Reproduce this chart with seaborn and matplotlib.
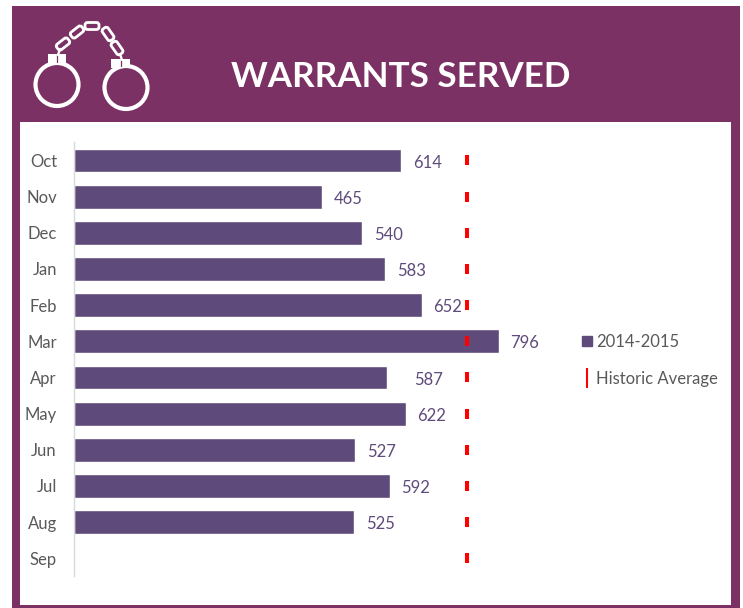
import pandas as pd
import seaborn as sns
import matplotlib.pyplot as plt
from matplotlib.patches import Rectangle, Circle, FancyBboxPatch, Patch
from matplotlib.lines import Line2D
from matplotlib.transforms import Affine2D

months = ["Oct", "Nov", "Dec", "Jan", "Feb", "Mar", "Apr", "May", "Jun", "Jul", "Aug", "Sep"]
served = [614, 465, 540, 583, 652, 796, 587, 622, 527, 592, 525, None]
historic = [736, 736, 736, 736, 736, 736, 736, 736, 736, 736, 736, 736]

W, H = 743, 608
PURPLE = "#7B3163"
BAR = "#5F4B7B"
GREY = "#595959"

sns.set_theme(style="white")
plt.rcParams["font.family"] = ["Lato", "DejaVu Sans"]

fig = plt.figure(figsize=(W / 100, H / 100), dpi=100)
fig.patch.set_facecolor("white")

# background frame, in pixels from top left
bg = fig.add_axes([0, 0, 1, 1])
bg.set_xlim(0, W)
bg.set_ylim(H, 0)
bg.axis("off")
bg.add_patch(Rectangle((11.5, 6), 728, 116, color=PURPLE, lw=0))
bg.add_patch(Rectangle((11.5, 122), 8, 486, color=PURPLE, lw=0))
bg.add_patch(Rectangle((731, 122), 8.5, 486, color=PURPLE, lw=0))
bg.add_patch(Rectangle((11.5, 605), 728, 3, color=PURPLE, lw=0))
bg.text(401, 87, "WARRANTS SERVED", color="white", fontsize=25.2, fontweight="bold",
        ha="center", va="baseline")

# handcuffs
for cx, cy in [(57, 84.5), (126, 87.5)]:
    bg.add_patch(Circle((cx, cy), 21.5, fill=False, ec="white", lw=3))
bg.add_patch(Rectangle((47.5, 54), 18, 9, color="white", lw=0))
bg.add_patch(Rectangle((111, 59), 19, 9, color="white", lw=0))
bg.plot([56.5, 56.5], [54, 62], color=PURPLE, lw=0.9)
bg.plot([120.5, 120.5], [59, 66], color=PURPLE, lw=0.9)
links = [(63, 44, -38), (77, 32, -38), (92, 26, 0), (108, 34, 55), (117, 48, 55)]
for lx, ly, ang in links:
    rot = Affine2D().rotate_deg_around(lx, ly, ang) + bg.transData
    bg.add_patch(FancyBboxPatch((lx - 7, ly - 3.5), 14, 7, boxstyle="round,pad=0,rounding_size=2.5",
                                fill=False, ec="white", lw=2, transform=rot))
bg.plot([58, 60], [55, 49], color="white", lw=1.7)
bg.plot([120, 122], [54, 60], color="white", lw=1.7)

# chart
ax = fig.add_axes([73.6 / W, 1 - 576.4 / H, (725 - 73.6) / W, 434 / H])
ax.patch.set_alpha(0)
data = pd.DataFrame({"month": months, "served": served, "historic": historic})
sns.barplot(data=data, x="served", y="month", color=BAR, saturation=1, width=0.66, ax=ax)
sns.scatterplot(data=data, x="historic", y="month", marker="|", color="#FF0000", s=52,
                linewidth=2.9, zorder=5, ax=ax, legend=False)

for i, v in enumerate(served):
    if v is not None:
        # the Apr label sits further out in the original
        pad = 19.5 if months[i] == "Apr" else 8.5
        ax.annotate(str(v), (v, i), xytext=(pad, -1.5), textcoords="offset points", va="center",
                    color=BAR, fontsize=12)
ax.set_xlim(0, (725 - 73.6) / (425 / 796))
ax.set_ylim(11.5, -0.5)
ax.set_xlabel("")
ax.set_ylabel("")
ax.set_xticks([])
ax.tick_params(axis="y", length=0, pad=12, labelsize=12, labelcolor=GREY)
sns.despine(ax=ax, bottom=True, right=True, top=True)
ax.spines["left"].set_color("#D9D9D9")
ax.spines["left"].set_linewidth(1)

handles = [Patch(color=BAR, label="2014-2015"),
           Line2D([], [], color="#FF0000", marker="|", ls="", ms=14.4, mew=1.5, label="Historic Average")]
fig.legend(handles=handles, loc="upper left", bbox_to_anchor=(582 / W, 1 - 334 / H), frameon=False,
           fontsize=12, labelcolor=GREY, labelspacing=1.25, handlelength=0.6, handleheight=0.6,
           handletextpad=0.24, borderpad=0, borderaxespad=0)

fig.savefig("out.png", dpi=100)
